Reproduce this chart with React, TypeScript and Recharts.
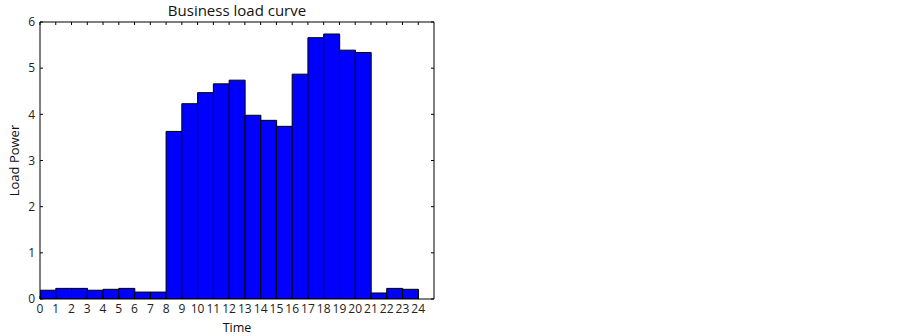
import { BarChart, Bar, XAxis, YAxis, Label } from 'recharts';

// hour of day (bar starts at the hour) and load for that hour
const HOURS = [0, 1, 2, 3, 4, 5, 6, 7, 8, 9, 10, 11, 12, 13, 14, 15, 16, 17, 18, 19, 20, 21, 22, 23];
const LOADS = [
    0.19, 0.23, 0.23, 0.19, 0.21, 0.23, 0.15, 0.15, 3.63, 4.23, 4.47, 4.66,
    4.74, 3.98, 3.87, 3.74, 4.87, 5.66, 5.74, 5.39, 5.34, 0.13, 0.23, 0.21,
];
const X_TICKS = [0, 1, 2, 3, 4, 5, 6, 7, 8, 9, 10, 11, 12, 13, 14, 15, 16, 17, 18, 19, 20, 21, 22, 23, 24];
const Y_TICKS = [0, 1, 2, 3, 4, 5, 6];

// each bar covers [hour, hour + 1], so centre it on the middle of the hour
const data = HOURS.map((h, i) => ({ mid: h + 0.5, load: LOADS[i] }));

const FONT = '"Open Sans", sans-serif';
const tickStyle = { fill: '#222', fontSize: 12, fontFamily: FONT };
const blank = () => '';

export default function App() {
    return (
        <div style={{ width: 903, height: 336, background: '#fff', position: 'relative' }}>
            <style>{'body { margin: 0; }'}</style>
            <div
                style={{
                    position: 'absolute', left: 40, width: 394, top: 0, textAlign: 'center', zIndex: 2,
                    fontFamily: FONT, fontSize: 15, color: '#111', lineHeight: '20px',
                }}
            >
                Business load curve
            </div>
            <BarChart
                width={903}
                height={336}
                data={data}
                barCategoryGap={0}
                barGap={0}
                margin={{ top: 21, right: 468, bottom: 4, left: 10 }}
            >
                <XAxis
                    dataKey="mid"
                    type="number"
                    domain={[0, 25]}
                    ticks={X_TICKS}
                    interval={0}
                    allowDataOverflow
                    height={33}
                    tickSize={-3}
                    tickMargin={8}
                    axisLine={{ stroke: '#000' }}
                    tickLine={{ stroke: '#000' }}
                    tick={tickStyle}
                >
                    <Label value="Time" position="insideBottom" offset={0} style={{ fill: '#111', fontSize: 12.5, fontFamily: FONT }} />
                </XAxis>
                <XAxis
                    xAxisId="top"
                    orientation="top"
                    dataKey="mid"
                    type="number"
                    domain={[0, 25]}
                    ticks={X_TICKS}
                    interval={0}
                    allowDataOverflow
                    height={1}
                    tickSize={-3}
                    tickFormatter={blank}
                    axisLine={{ stroke: '#000' }}
                    tickLine={{ stroke: '#000' }}
                />
                <YAxis
                    dataKey="load"
                    domain={[0, 6]}
                    ticks={Y_TICKS}
                    interval={0}
                    allowDataOverflow
                    width={30}
                    tickSize={-3}
                    tickMargin={8}
                    axisLine={{ stroke: '#000' }}
                    tickLine={{ stroke: '#000' }}
                    tick={tickStyle}
                >
                    <Label
                        value="Load Power"
                        angle={-90}
                        position="insideLeft"
                        offset={4}
                        style={{ textAnchor: 'middle', fill: '#111', fontSize: 13, fontFamily: FONT }}
                    />
                </YAxis>
                <YAxis
                    yAxisId="right"
                    orientation="right"
                    dataKey="load"
                    domain={[0, 6]}
                    ticks={Y_TICKS}
                    interval={0}
                    allowDataOverflow
                    width={1}
                    tickSize={-3}
                    tickFormatter={blank}
                    axisLine={{ stroke: '#000' }}
                    tickLine={{ stroke: '#000' }}
                />
                <Bar dataKey="load" fill="#0000ff" stroke="#000" strokeWidth={1} isAnimationActive={false} />
            </BarChart>
        </div>
    );
}
